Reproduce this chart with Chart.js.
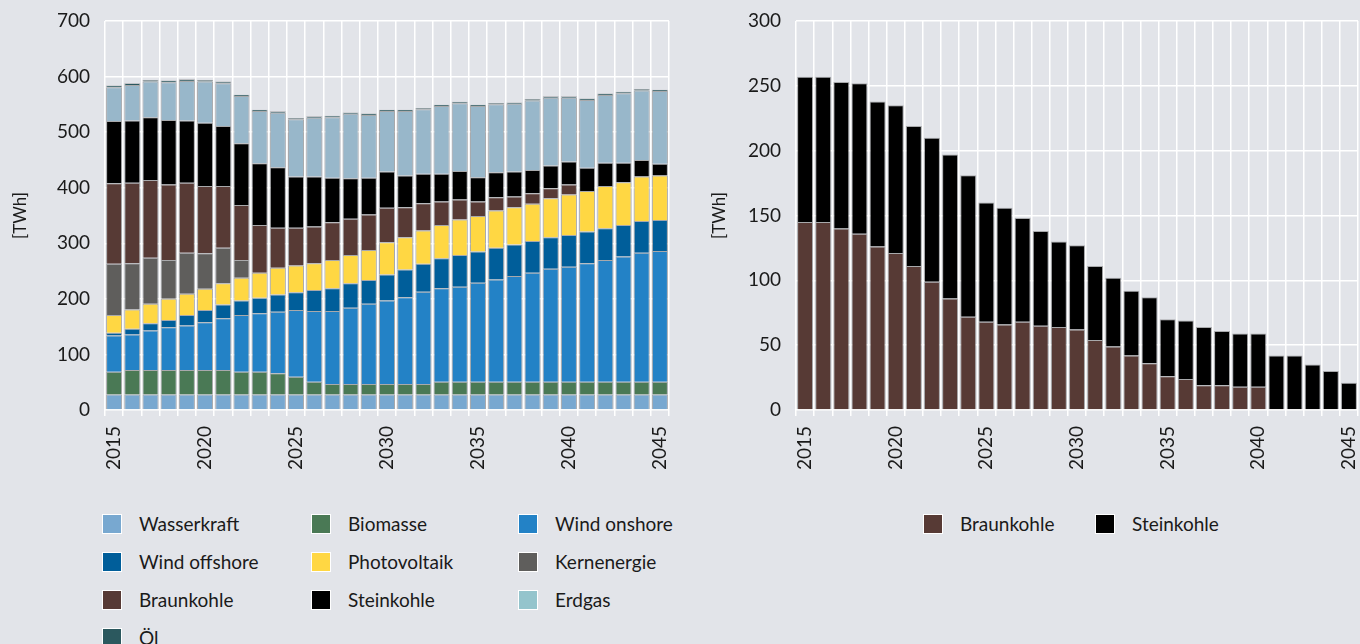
<!DOCTYPE html>
<html lang="de">
<head>
<meta charset="utf-8">
<title>Stromerzeugung</title>
<script src="https://cdn.jsdelivr.net/npm/chart.js@4.4.1/dist/chart.umd.min.js"></script>
<style>
  body { margin:0; background:#e2e4e9; font-family: Lato, sans-serif; color:#1a1a1a; }
  .wrap { position:relative; width:1360px; height:644px; overflow:hidden; }
  #links { position:absolute; left:0; top:0; }
  #rechts { position:absolute; left:690px; top:0; }
  .legende { position:absolute; display:grid; row-gap:17px; font-size:19px; line-height:21px; }
  #legende1 { left:102px; top:513px; grid-template-columns:209px 207px 200px; }
  #legende2 { left:923px; top:513px; grid-template-columns:172px 160px; }
  .eintrag { display:flex; align-items:center; white-space:nowrap; }
  .kasten { width:18px; height:18px; border:1px solid #fff; margin-right:17px; flex:none; }
</style>
</head>
<body>
<div class="wrap">
  <canvas id="links" width="680" height="485"></canvas>
  <canvas id="rechts" width="670" height="485"></canvas>
  <div class="legende" id="legende1"></div>
  <div class="legende" id="legende2"></div>
</div>
<script>
// Jahre
const jahre = ["2015","2016","2017","2018","2019","2020","2021","2022","2023","2024","2025",
  "2026","2027","2028","2029","2030","2031","2032","2033","2034","2035",
  "2036","2037","2038","2039","2040","2041","2042","2043","2044","2045"];

// Stromerzeugung [TWh]
const wasserkraft = [28,28,28,28,28,28,28,28,28,28,28,28,28,28,28,28,28,28,28,28,28,28,28,28,28,28,28,28,28,28,28];
const biomasse = [41,44,44,44,44,44,44,41,41,38,32,23,19,19,19,19,19,19,23,23,23,23,23,23,23,23,23,23,23,23,23];
const windOnshore = [65,64,71,77,80,86,93,102,105,111,120,127,131,137,144,150,156,166,168,171,178,184,190,196,203,207,213,219,225,232,235];
const windOffshore = [5,10,13,13,19,22,25,26,28,31,32,38,41,44,43,47,50,50,54,57,56,57,57,57,57,57,57,57,57,57,56];
const photovoltaik = [32,35,35,38,38,38,38,41,45,48,48,48,51,51,54,58,58,60,60,64,64,67,67,67,70,73,73,76,77,80,80];
const kernenergie = [92,83,83,70,74,64,64,32,0,0,0,0,0,0,0,0,0,0,0,0,0,0,0,0,0,0,0,0,0,0,0];
const braunkohle = [145,145,140,136,126,121,111,99,86,72,68,66,68,65,64,62,54,49,42,36,26,24,19,19,18,18,0,0,0,0,0];
const steinkohle = [112,112,113,116,112,114,108,111,111,109,92,90,80,73,66,65,57,53,50,51,44,45,45,42,41,41,42,42,35,30,21];
const erdgas = [61,64,64,68,71,74,77,85,94,98,103,106,109,116,113,109,116,116,122,122,128,122,122,125,122,115,122,122,125,125,131];
const oel = [3,3,3,3,3,3,3,2.5,2.5,2.5,2.5,2.5,2.5,2.5,2.5,2.5,2.5,2.5,2.5,2.5,2.5,2.5,2.5,2.5,2.5,2.5,2.5,2.5,2.5,2.5,2.5];

const schrift = { family: 'Lato', size: 19 };
Chart.defaults.color = '#1a1a1a';
Chart.defaults.font.family = 'Lato';

function reihe(name, werte, farbe, legendeFarbe) {
    return {
        label: name,
        data: werte,
        backgroundColor: farbe,
        legendColor: legendeFarbe || farbe,
        borderColor: 'rgba(110,110,110,0.5)',
        borderWidth: 1,
        barPercentage: 0.88,
        categoryPercentage: 1
    };
}

function optionen(max, schritt, breite, rechts, titelAbstand) {
    return {
        responsive: false,
        animation: false,
        devicePixelRatio: 1,
        layout: { padding: { top: 21, right: rechts, left: 0, bottom: 0 } },
        plugins: { legend: { display: false }, tooltip: { enabled: false } },
        scales: {
            x: {
                stacked: true,
                grid: { color: '#ffffff', lineWidth: 1.5, tickLength: 6, offset: true },
                border: { display: false },
                ticks: {
                    autoSkip: false, minRotation: 90, maxRotation: 90, padding: 10,
                    font: schrift, color: '#1a1a1a',
                    callback: function(v) {
                        const j = this.getLabelForValue(v);
                        return (Number(j) % 5 === 0) ? j : '';
                    }
                },
                afterFit: function(s) {
                    s.height = 75;
                    s.paddingLeft = 0;
                    s.paddingRight = 0;
                }
            },
            y: {
                stacked: true,
                min: 0, max: max,
                grid: { color: '#ffffff', lineWidth: 1.5, drawTicks: false },
                border: { display: false },
                ticks: { stepSize: schritt, padding: 15, font: schrift, color: '#1a1a1a' },
                title: { display: true, text: '[TWh]', font: { family: 'Lato', size: 17 }, color: '#1a1a1a', padding: { top: titelAbstand, bottom: 0 } },
                afterFit: function(s) {
                    s.width = breite;
                    s.paddingTop = 0;
                    s.paddingBottom = 0;
                }
            }
        }
    };
}

const chart1 = new Chart(document.getElementById('links'), {
    type: 'bar',
    data: {
        labels: jahre,
        datasets: [
            reihe('Wasserkraft', wasserkraft, '#78a8d0'),
            reihe('Biomasse', biomasse, '#4a7955'),
            reihe('Wind onshore', windOnshore, '#2382c6'),
            reihe('Wind offshore', windOffshore, '#005e9a'),
            reihe('Photovoltaik', photovoltaik, '#ffd743'),
            reihe('Kernenergie', kernenergie, '#5f5e5c'),
            reihe('Braunkohle', braunkohle, '#573a35'),
            reihe('Steinkohle', steinkohle, '#000000'),
            reihe('Erdgas', erdgas, '#98b7ca', '#94c4cc'),
            reihe('Öl', oel, '#2b585e')
        ]
    },
    options: optionen(700, 100, 105, 11, 10)
});

const chart2 = new Chart(document.getElementById('rechts'), {
    type: 'bar',
    data: {
        labels: jahre,
        datasets: [
            reihe('Braunkohle', braunkohle, '#573a35'),
            reihe('Steinkohle', steinkohle, '#000000')
        ]
    },
    options: optionen(300, 50, 106, 2, 19)
});

// Legende als HTML
function legende(chart, id) {
    const ziel = document.getElementById(id);
    chart.data.datasets.forEach(function(ds) {
        const e = document.createElement('div');
        e.className = 'eintrag';
        const k = document.createElement('span');
        k.className = 'kasten';
        k.style.background = ds.legendColor;
        e.appendChild(k);
        e.appendChild(document.createTextNode(ds.label));
        ziel.appendChild(e);
    });
}
legende(chart1, 'legende1');
legende(chart2, 'legende2');
</script>
</body>
</html>
